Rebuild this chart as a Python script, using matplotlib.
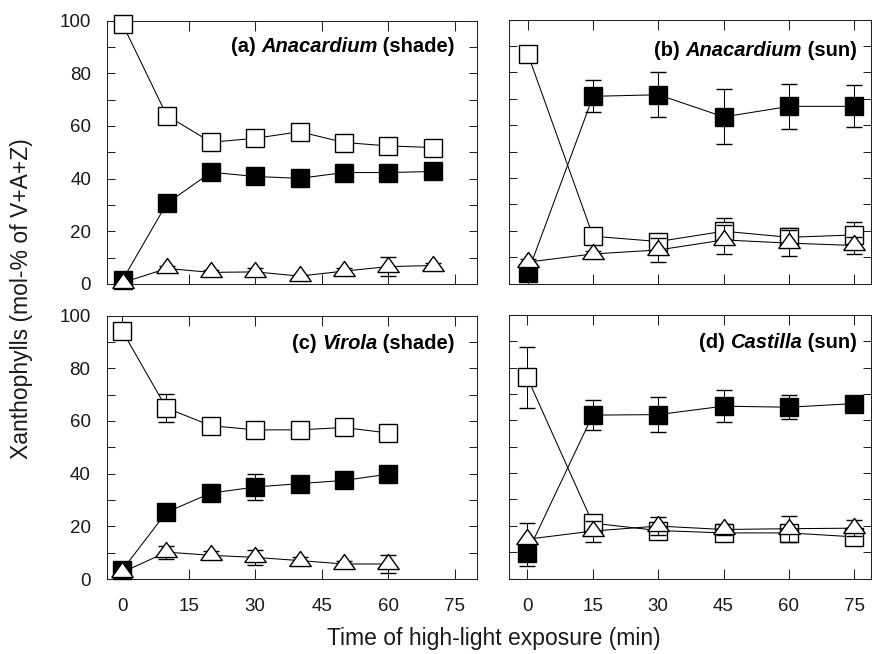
import numpy as np
import matplotlib
matplotlib.use('Agg')
import matplotlib.pyplot as plt

plt.rcParams['font.family'] = ['Liberation Sans', 'DejaVu Sans']

# sampling times (min)
t_a = [0, 10, 20, 30, 40, 50, 60, 70]
t_c = [0, 10, 20, 30, 40, 50, 60]
t_sun = [0, 15, 30, 45, 60, 75]

# (a) Anacardium shade
a_V = [98.7, 63.9, 53.8, 55.3, 57.8, 53.7, 52.4, 51.8]
a_V_err = [0.5, 1.0, 1.0, 1.0, 1.5, 1.0, 1.0, 1.0]
a_Z = [1.5, 30.6, 42.4, 40.8, 40.1, 42.3, 42.3, 42.7]
a_Z_err = [0.5, 1.0, 1.0, 1.0, 1.0, 1.0, 1.0, 1.0]
a_A = [0.5, 5.9, 4.4, 4.6, 3.0, 4.9, 6.6, 7.0]
a_A_err = [0.5, 1.0, 1.0, 1.5, 0.5, 1.0, 3.5, 1.0]

# (b) Anacardium sun
b_V = [87.0, 17.9, 15.9, 19.8, 17.5, 18.4]
b_V_err = [0.5, 2.0, 3.0, 5.0, 3.5, 5.0]
b_Z = [4.0, 70.9, 71.5, 63.1, 67.1, 67.1]
b_Z_err = [0.5, 6.0, 8.6, 10.4, 8.5, 8.0]
b_A = [8.1, 11.2, 12.7, 16.5, 15.3, 14.4]
b_A_err = [1.0, 1.0, 4.6, 5.5, 5.0, 3.2]

# (c) Virola shade
c_V = [94.3, 64.9, 58.2, 56.6, 56.6, 57.5, 55.4]
c_V_err = [1.0, 5.2, 2.5, 1.0, 1.0, 1.0, 1.0]
c_Z = [3.3, 25.3, 32.6, 34.9, 36.2, 37.4, 39.8]
c_Z_err = [1.0, 1.5, 1.5, 4.9, 3.0, 2.5, 1.5]
c_A = [2.5, 10.2, 9.0, 8.2, 7.0, 5.7, 5.7]
c_A_err = [1.0, 2.5, 1.5, 2.7, 1.5, 1.0, 3.5]

# (d) Castilla sun
d_V = [76.3, 21.0, 18.2, 17.3, 17.3, 15.8]
d_V_err = [11.7, 3.0, 3.0, 2.0, 2.0, 2.0]
d_Z = [9.6, 62.0, 62.2, 65.4, 65.0, 66.4]
d_Z_err = [5.0, 5.8, 6.6, 6.0, 4.5, 1.0]
d_A = [14.9, 18.0, 19.9, 18.6, 18.9, 19.1]
d_A_err = [6.0, 4.0, 3.5, 2.0, 5.0, 3.0]

# wide triangle, data point at centroid
tri = [(-1, -0.467), (1, -0.467), (0, 0.933), (-1, -0.467)]

fig = plt.figure(figsize=(8.72, 6.54), dpi=100)
W, H = 872.0, 654.0

def px_axes(l, r, t, b):
    return fig.add_axes([l / W, 1 - b / H, (r - l) / W, (b - t) / H])

ax_a = px_axes(107, 477, 20.5, 284)
ax_b = px_axes(509, 871, 19.5, 283.5)
ax_c = px_axes(106.5, 477, 315.5, 579)
ax_d = px_axes(508.5, 871, 315, 578.5)

def draw_series(ax, t, y, e, marker, ms, fc, z):
    ax.errorbar(t, y, yerr=e, fmt='-', marker=marker, ms=ms, mfc=fc, mec='k',
                mew=1.0, color='k', lw=0.75, elinewidth=0.75, ecolor='k',
                capsize=6, capthick=0.75, clip_on=False, zorder=z)

def panel_title(ax, tag, genus, cond, x, y):
    last = ax.text(x, y, ' (' + cond + ')', transform=ax.transAxes,
                   ha='right', va='center', fontsize=14.5, fontweight='bold')
    mid = ax.annotate(genus, xy=(0, 0), xycoords=last, ha='right', va='bottom',
                      fontsize=14.5, fontweight='bold', fontstyle='italic')
    ax.annotate('(' + tag + ') ', xy=(0, 0), xycoords=mid, ha='right', va='bottom',
                fontsize=14.5, fontweight='bold')

def style_axes(ax, xlim, show_x, show_y):
    ax.set_xlim(*xlim)
    ax.set_ylim(0, 100)
    ax.set_xticks([0, 15, 30, 45, 60, 75])
    ax.set_yticks(np.arange(0, 101, 10))
    ax.set_yticklabels([str(v) if v % 20 == 0 else '' for v in range(0, 101, 10)])
    ax.tick_params(axis='both', direction='in', top=True, right=True,
                   width=0.75, color='#222222', labelsize=13.5, labelcolor='#1a1a1a')
    ax.tick_params(axis='x', length=7.5, pad=14)
    ax.tick_params(axis='y', length=6, pad=11.5)
    ax.tick_params(labelbottom=show_x, labelleft=show_y)
    for s in ax.spines.values():
        s.set_linewidth(0.75)
        s.set_color('#222222')

panels = [
    (ax_a, t_a, a_V, a_V_err, a_Z, a_Z_err, a_A, a_A_err),
    (ax_b, t_sun, b_V, b_V_err, b_Z, b_Z_err, b_A, b_A_err),
    (ax_c, t_c, c_V, c_V_err, c_Z, c_Z_err, c_A, c_A_err),
    (ax_d, t_sun, d_V, d_V_err, d_Z, d_Z_err, d_A, d_A_err),
]
for ax, t, V, Ve, Z, Ze, A, Ae in panels:
    draw_series(ax, t, V, Ve, 's', 13, 'white', 3)
    draw_series(ax, t, Z, Ze, 's', 13, 'black', 4)
    draw_series(ax, t, A, Ae, tri, 15.5, 'white', 5)

style_axes(ax_a, (-3.5, 80), False, True)
style_axes(ax_b, (-4.3, 78.8), False, False)
style_axes(ax_c, (-3.5, 80), True, True)
style_axes(ax_d, (-4.3, 78.8), True, False)

panel_title(ax_a, 'a', 'Anacardium', 'shade', 0.94, 0.90)
panel_title(ax_b, 'b', 'Anacardium', 'sun', 0.961, 0.882)
panel_title(ax_c, 'c', 'Virola', 'shade', 0.94, 0.895)
panel_title(ax_d, 'd', 'Castilla', 'sun', 0.961, 0.895)

fig.text(22 / W, 1 - 299 / H, 'Xanthophylls (mol-% of V+A+Z)', rotation=90,
         ha='center', va='center', fontsize=16.5, color='#1a1a1a')
fig.text(494 / W, 1 - 638 / H, 'Time of high-light exposure (min)',
         ha='center', va='center', fontsize=16.5, color='#1a1a1a')

fig.savefig('out.png', dpi=100)
